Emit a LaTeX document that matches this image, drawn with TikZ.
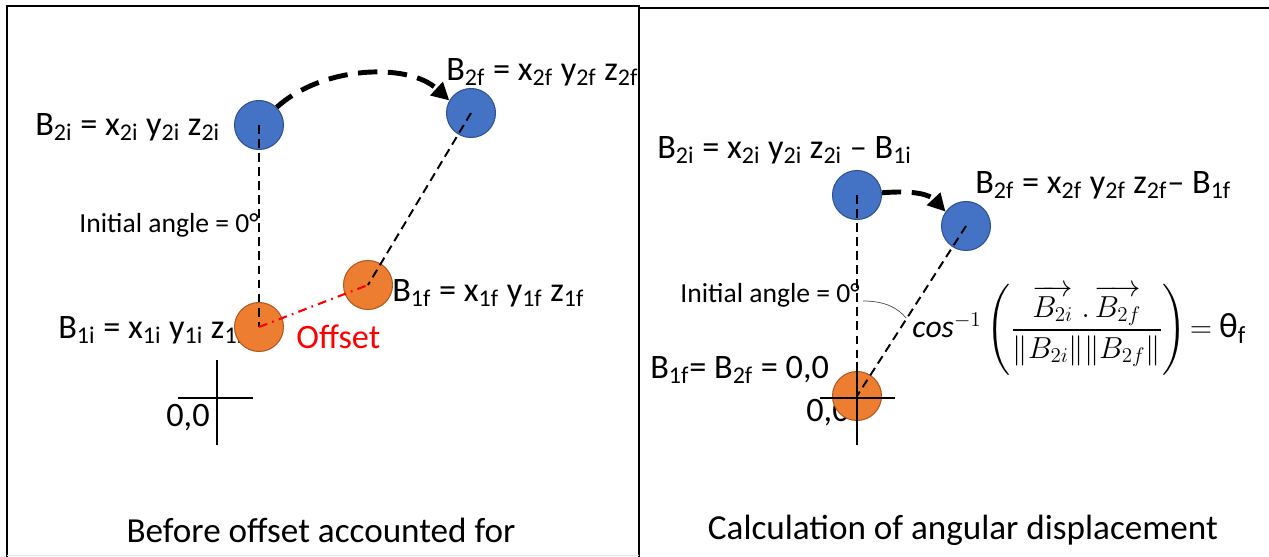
\documentclass[tikz,border=0pt]{standalone}
\usepackage{amsmath}
\usepackage{fontspec}
\setmainfont{Carlito}
\usetikzlibrary{arrows.meta, positioning}

\definecolor{ballblue}{HTML}{4472C4}
\definecolor{ballblueedge}{HTML}{2F528F}
\definecolor{ballorange}{HTML}{ED7D31}
\definecolor{ballorangeedge}{HTML}{AE5A21}

\newcommand{\sbs}[1]{\textsubscript{#1}}

\begin{document}
\begin{tikzpicture}[
    x=0.02cm, y=-0.02cm,
    bluedot/.style={circle, draw=ballblueedge, line width=0.6pt, fill=ballblue,
                    minimum size=0.98cm, inner sep=0pt},
    orangedot/.style={circle, draw=ballorangeedge, line width=0.6pt, fill=ballorange,
                    minimum size=0.98cm, inner sep=0pt},
    lbl/.style={inner sep=0pt, font=\fontsize{19.5}{23}\selectfont},
    smalltext/.style={inner sep=0pt, font=\fontsize{15.7}{18}\selectfont},
    caption/.style={inner sep=0pt, font=\fontsize{20}{24}\selectfont},
    mathtext/.style={inner sep=0pt, font=\fontsize{18}{22}\selectfont},
    guide/.style={line width=1.1pt, dash pattern=on 5pt off 3pt},
    offsetline/.style={red, line width=1.2pt, dash pattern=on 5pt off 3pt on 1pt off 3pt},
    move/.style={line width=2.8pt, dash pattern=on 11pt off 6pt,
                 -{Triangle[length=10pt,width=10pt]}},
    axis/.style={line width=1.2pt}
  ]
  \useasboundingbox (0,0) rectangle (1269,557);

  % panel frames
  \draw[line width=1.2pt] (7,557) -- (7,6) -- (639,6) -- (639,557);
  \draw[gray!20] (7,555) -- (639,555);
  \draw[line width=1.2pt] (639,8) -- (1269,8);

  % left panel: before offset
  \node[lbl, anchor=west] (lb2i) at (35,127) {B\sbs{2i} = x\sbs{2i} y\sbs{2i} z\sbs{2i}};
  \node[lbl, anchor=west] (lb2f) at (446,72) {B\sbs{2f} = x\sbs{2f} y\sbs{2f} z\sbs{2f}};
  \node[smalltext, anchor=east] (linit) at (259,225) {Initial angle = 0°};
  \node[lbl, anchor=west] (lb1f) at (392,293) {B\sbs{1f} = x\sbs{1f} y\sbs{1f} z\sbs{1f}};
  \node[lbl, anchor=west] (lb1i) at (58,330) {B\sbs{1i} = x\sbs{1i} y\sbs{1i} z\sbs{1i}};
  \node[lbl, text=red, anchor=west] (offset) at (296,337) {Offset};
  \node[lbl] (lorig) at (188,418) {0,0};
  \node[caption] (capl) at (321,530) {Before offset accounted for};

  \node[bluedot] (b2i) at (259,125) {};
  \node[bluedot] (b2f) at (471,113) {};
  \node[orangedot] (b1i) at (259,327) {};
  \node[orangedot] (b1f) at (368,285) {};

  \draw[guide] (b2i.center) -- (b1i.center);
  \draw[guide] (b2f.center) -- (b1f.center);
  \draw[offsetline] (b1i.center) -- (b1f.center);
  \draw[move] (b2i.45) .. controls (322,66) and (408,62) .. (b2f.150);

  \draw[axis] (178,398) -- (253,398);
  \draw[axis] (217,360) -- (217,445);

  % right panel: angular displacement
  \node[lbl, anchor=west] (rb2ilbl) at (657,150) {B\sbs{2i} = x\sbs{2i} y\sbs{2i} z\sbs{2i} – B\sbs{1i}};
  \node[lbl, anchor=west] (rb2flbl) at (975,185) {B\sbs{2f} = x\sbs{2f} y\sbs{2f} z\sbs{2f}– B\sbs{1f}};
  \node[smalltext, anchor=east] (rinit) at (860,295) {Initial angle = 0°};
  \node[mathtext, anchor=west] (formula) at (912,330)
    {$\mathit{cos}^{-1}\left(\dfrac{\overrightarrow{B_{2i}}\;.\,\overrightarrow{B_{2f}}}{\lVert B_{2i}\rVert\lVert B_{2f}\rVert}\right)\!=$ {\fontsize{20}{24}\selectfont θ\sbs{f}}};
  \node[lbl, anchor=west] (rorig) at (650,370) {B\sbs{1f}= B\sbs{2f} = 0,0};
  \node[lbl] (rzero) at (828,413) {0,0};
  \node[caption] (capr) at (963,530) {Calculation of angular displacement};

  \node[orangedot] (r1) at (857,396) {};
  \node[bluedot] (r2i) at (857,195) {};
  \node[bluedot] (r2f) at (966,226) {};

  \draw[guide] (r2i.center) -- (r1.center);
  \draw[guide] (r2f.center) -- (r1.center);
  \draw[move] (r2i.5) .. controls (915,190) and (930,195) .. (r2f.145);

  \coordinate (arcstart) at (863,301);
  \coordinate (arcend) at (906,318);
  \draw[thin, black!70] (arcstart) .. controls (885,301) and (898,308) .. (arcend);

  \draw[axis] (820,398) -- (895,398);
  \draw[axis] (857,362) -- (857,445);
\end{tikzpicture}
\end{document}
